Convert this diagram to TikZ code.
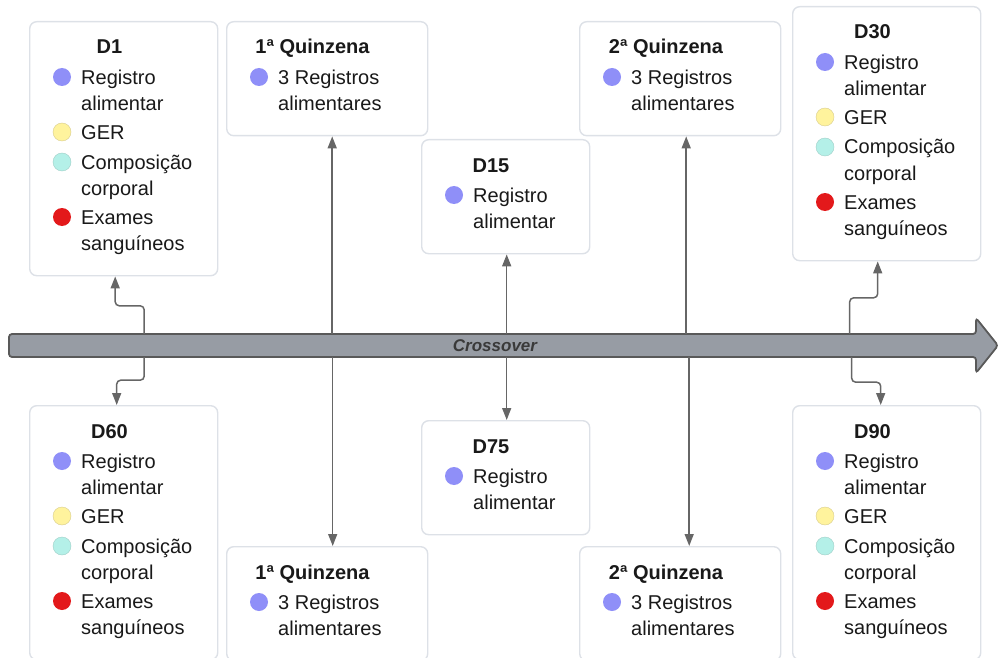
\documentclass[tikz,border=0pt]{standalone}
\usepackage{fontspec}
\setmainfont{Liberation Sans}
\usepackage{tikz}
\usetikzlibrary{arrows.meta}

\definecolor{cardline}{HTML}{DDE1E7}
\definecolor{connline}{HTML}{666666}
\definecolor{axisfill}{HTML}{979CA4}
\definecolor{axisline}{HTML}{595959}
\definecolor{crosstext}{HTML}{3A3A3A}
\definecolor{dotblue}{HTML}{8F8FF8}
\definecolor{dotyellow}{HTML}{FFF39D}
\definecolor{dotyellowline}{HTML}{D8CD8E}
\definecolor{dotcyan}{HTML}{B4F0E8}
\definecolor{dotcyanline}{HTML}{9FCFC7}
\definecolor{dotred}{HTML}{E3191B}

\tikzset{
  card/.style={draw=cardline, line width=1.4pt, rounded corners=7pt, fill=white,
    anchor=north west, inner sep=0pt},
  cardtitle/.style={font=\fontsize{20}{26}\selectfont\bfseries, anchor=base, inner sep=0pt},
  % base of a two-line text is the baseline of its last line
  itemtext/.style={anchor=base west, align=left, inner sep=0pt},
  itemdot/.style={circle, minimum size=18pt, inner sep=0pt, fill=#1},
  conn/.style={draw=connline, line width=1.5pt, rounded corners=4pt,
    -{Triangle[length=12pt,width=9pt]}},
}

\begin{document}
\begin{tikzpicture}[x=1pt, y=-1pt, font=\fontsize{20}{26}\selectfont, text=black!90]
  \useasboundingbox (0,0) rectangle (999,658);

  % the time line
  \draw[axisline, fill=axisfill, line width=1.8pt, rounded corners=3pt]
    (9,334) -- (976,334) -- (976,318) -- (998,345.5) -- (976,373)
    -- (976,357) -- (9,357) -- cycle;
  \node[minimum width=960pt, minimum height=23pt, inner sep=0pt, text=crosstext,
    font=\fontsize{17}{20}\selectfont\bfseries\itshape] (axis) at (495,345.5) {Crossover};

  % big cards: D1, D30, D60, D90
  \foreach \name/\px/\py/\ttl in {d1/29/21/D1, d30/792/6/D30, d60/29/405/D60, d90/792/405/D90}{
    \node[card, minimum width=188pt, minimum height=254pt] (\name) at (\px,\py) {};
    \node[cardtitle] (\name-t) at ([shift={(80.5,33)}]\name.north west) {\ttl};
    \node[itemdot=dotblue] (\name-d1) at ([shift={(33,56)}]\name.north west) {};
    \node[itemtext] (\name-i1) at ([shift={(52,89.5)}]\name.north west) {Registro\\alimentar};
    \node[itemdot=dotyellow, draw=dotyellowline] (\name-d2) at ([shift={(33,111)}]\name.north west) {};
    \node[itemtext] (\name-i2) at ([shift={(52,118.5)}]\name.north west) {GER};
    \node[itemdot=dotcyan, draw=dotcyanline] (\name-d3) at ([shift={(33,141)}]\name.north west) {};
    \node[itemtext] (\name-i3) at ([shift={(52,174)}]\name.north west) {Composição\\corporal};
    \node[itemdot=dotred] (\name-d4) at ([shift={(33,196)}]\name.north west) {};
    \node[itemtext] (\name-i4) at ([shift={(52,229)}]\name.north west) {Exames\\sanguíneos};
  }

  % small cards
  \foreach \name/\px/\py/\w/\tx/\ttl/\txt in {
      q1a/226/21/201/86.5/{1ª Quinzena}/{3 Registros\\alimentares},
      q2a/579/21/201/87/{2ª Quinzena}/{3 Registros\\alimentares},
      d15/421/139/168/70/{D15}/{Registro\\alimentar},
      d75/421/420/168/70/{D75}/{Registro\\alimentar},
      q1b/226/546/201/86.5/{1ª Quinzena}/{3 Registros\\alimentares},
      q2b/579/546/201/87/{2ª Quinzena}/{3 Registros\\alimentares}}{
    \node[card, minimum width=\w pt, minimum height=114pt] (\name) at (\px,\py) {};
    \node[cardtitle] (\name-t) at ([shift={(\tx,33)}]\name.north west) {\ttl};
    \node[itemdot=dotblue] (\name-d1) at ([shift={(33,56)}]\name.north west) {};
    \node[itemtext] (\name-i1) at ([shift={(52,89.5)}]\name.north west) {\txt};
  }

  % connectors
  \draw[conn] ([xshift=20.5pt]d1.south |- axis.north) -- ++(0,-28) -| ([xshift=-8.5pt]d1.south);
  \draw[conn] ([xshift=20.5pt]d60.north |- axis.south) -- ++(0,23) -| ([xshift=-7pt]d60.north);
  \draw[conn] ([xshift=5pt]q1a.south |- axis.north) -- ([xshift=5pt]q1a.south);
  \draw[conn] ([xshift=5.5pt]q1b.north |- axis.south) -- ([xshift=5.5pt]q1b.north);
  \draw[conn] ([xshift=1pt]d15.south |- axis.north) -- ([xshift=1pt]d15.south);
  \draw[conn] ([xshift=1pt]d75.north |- axis.south) -- ([xshift=1pt]d75.north);
  \draw[conn] ([xshift=6pt]q2a.south |- axis.north) -- ([xshift=6pt]q2a.south);
  \draw[conn] ([xshift=9pt]q2b.north |- axis.south) -- ([xshift=9pt]q2b.north);
  \draw[conn] ([xshift=-37pt]d30.south |- axis.north) -- ++(0,-36) -| ([xshift=-9pt]d30.south);
  \draw[conn] ([xshift=-35pt]d90.north |- axis.south) -- ++(0,25) -| ([xshift=-6pt]d90.north);
\end{tikzpicture}
\end{document}
